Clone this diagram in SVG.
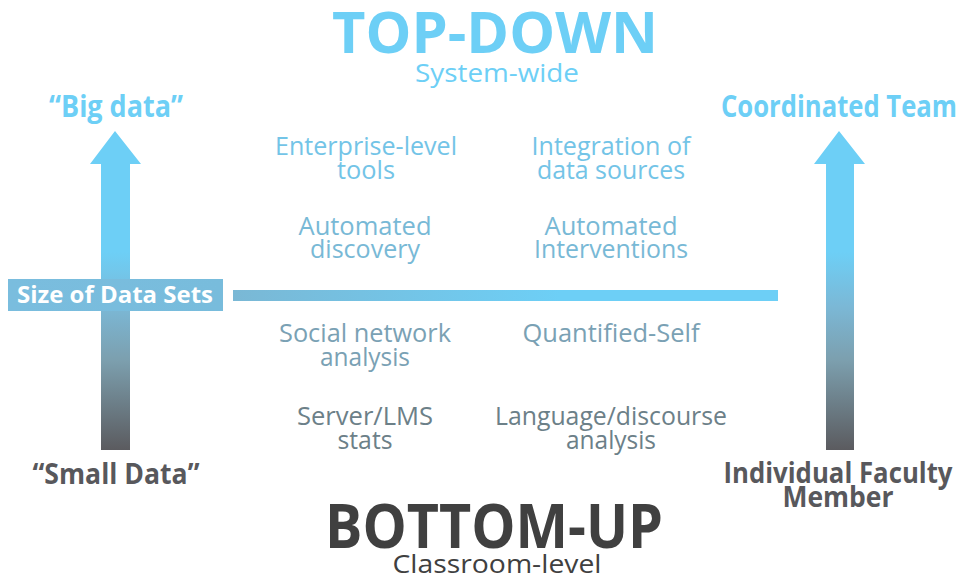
<svg xmlns="http://www.w3.org/2000/svg" width="967" height="578" viewBox="0 0 967 578">
<defs>
<linearGradient id="vgrad" x1="0" y1="0" x2="0" y2="1">
<stop offset="0" stop-color="#6dcff6"/>
<stop offset="0.38" stop-color="#6dcff6"/>
<stop offset="0.55" stop-color="#7bb8d6"/>
<stop offset="0.72" stop-color="#7c9fae"/>
<stop offset="1" stop-color="#5b5b5f"/>
</linearGradient>
<linearGradient id="hgrad" x1="0" y1="0" x2="1" y2="0">
<stop offset="0" stop-color="#7ab8d5"/>
<stop offset="0.6" stop-color="#6dcff6"/>
<stop offset="1" stop-color="#6dcff6"/>
</linearGradient>
<linearGradient id="boxgrad" x1="0" y1="0" x2="1" y2="0">
<stop offset="0" stop-color="#7abdde"/>
<stop offset="1" stop-color="#78bcdc"/>
</linearGradient>
</defs>
<style>
text{font-family:"Open Sans","Noto Sans","Liberation Sans",sans-serif;text-anchor:middle}
.b{font-weight:bold}
.blue{fill:#6dcff6}
.grey{fill:#58585c}
.mid{font-size:25px}
.t1{fill:#73c4e7}
.t2{fill:#78b9d6}
.t3{fill:#7aa1b4}
.t4{fill:#6c8088}
</style>

<g id="connectors">
<path id="left-arrow" d="M115,131 L141,164 L130,164 L130,450 L101,450 L101,164 L90,164 Z" fill="url(#vgrad)"/>
<path id="right-arrow" d="M839,131 L865,164 L854,164 L854,450 L826,450 L826,164 L814,164 Z" fill="url(#vgrad)"/>
<rect id="h-bar" x="233" y="290" width="545" height="11" fill="url(#hgrad)"/>
</g>

<g id="top-down">
<text x="495" y="53" class="b blue" font-size="57" textLength="326" lengthAdjust="spacingAndGlyphs">TOP-DOWN</text>
<text x="497" y="82" class="blue" font-size="26" textLength="164" lengthAdjust="spacingAndGlyphs">System-wide</text>
</g>

<g id="big-data">
<text x="116" y="117" class="b blue" font-size="30" textLength="134" lengthAdjust="spacingAndGlyphs">“Big data”</text>
</g>

<g id="coordinated-team">
<text x="839" y="117" class="b blue" font-size="30" textLength="236" lengthAdjust="spacingAndGlyphs">Coordinated Team</text>
</g>

<g id="size-label">
<rect x="8" y="279" width="215" height="32" fill="url(#boxgrad)"/>
<text x="115" y="303" class="b" fill="#ffffff" font-size="23" textLength="196" lengthAdjust="spacingAndGlyphs">Size of Data Sets</text>
</g>

<g id="enterprise">
<text x="366" y="155" class="mid t1" textLength="182" lengthAdjust="spacingAndGlyphs">Enterprise-level</text>
<text x="366" y="179" class="mid t1" textLength="58" lengthAdjust="spacingAndGlyphs">tools</text>
</g>

<g id="integration">
<text x="611" y="155" class="mid t1" textLength="159" lengthAdjust="spacingAndGlyphs">Integration of</text>
<text x="611" y="179" class="mid t1" textLength="148" lengthAdjust="spacingAndGlyphs">data sources</text>
</g>

<g id="auto-discovery">
<text x="365" y="235" class="mid t2" textLength="133" lengthAdjust="spacingAndGlyphs">Automated</text>
<text x="365" y="258" class="mid t2" textLength="110" lengthAdjust="spacingAndGlyphs">discovery</text>
</g>

<g id="auto-interventions">
<text x="611" y="235" class="mid t2" textLength="133" lengthAdjust="spacingAndGlyphs">Automated</text>
<text x="611" y="258" class="mid t2" textLength="154" lengthAdjust="spacingAndGlyphs">Interventions</text>
</g>

<g id="social-network">
<text x="365" y="342" class="mid t3" textLength="172" lengthAdjust="spacingAndGlyphs">Social network</text>
<text x="365" y="366" class="mid t3" textLength="90" lengthAdjust="spacingAndGlyphs">analysis</text>
</g>

<g id="quantified-self">
<text x="611" y="342" class="mid t3" textLength="177" lengthAdjust="spacingAndGlyphs">Quantified-Self</text>
</g>

<g id="server-lms">
<text x="365" y="425" class="mid t4" textLength="136" lengthAdjust="spacingAndGlyphs">Server/LMS</text>
<text x="365" y="449" class="mid t4" textLength="55" lengthAdjust="spacingAndGlyphs">stats</text>
</g>

<g id="language">
<text x="611" y="425" class="mid t4" textLength="232" lengthAdjust="spacingAndGlyphs">Language/discourse</text>
<text x="611" y="449" class="mid t4" textLength="90" lengthAdjust="spacingAndGlyphs">analysis</text>
</g>

<g id="small-data">
<text x="116" y="484" class="b grey" font-size="29" textLength="167" lengthAdjust="spacingAndGlyphs">“Small Data”</text>
</g>

<g id="individual-faculty">
<text x="838" y="483" class="b grey" font-size="29" textLength="229" lengthAdjust="spacingAndGlyphs">Individual Faculty</text>
<text x="838" y="507" class="b grey" font-size="29" textLength="111" lengthAdjust="spacingAndGlyphs">Member</text>
</g>

<g id="bottom-up">
<text x="494" y="548" class="b" fill="#404040" font-size="60" textLength="338" lengthAdjust="spacingAndGlyphs">BOTTOM-UP</text>
<text x="497" y="573" fill="#404040" font-size="26" textLength="209" lengthAdjust="spacingAndGlyphs">Classroom-level</text>
</g>
</svg>
